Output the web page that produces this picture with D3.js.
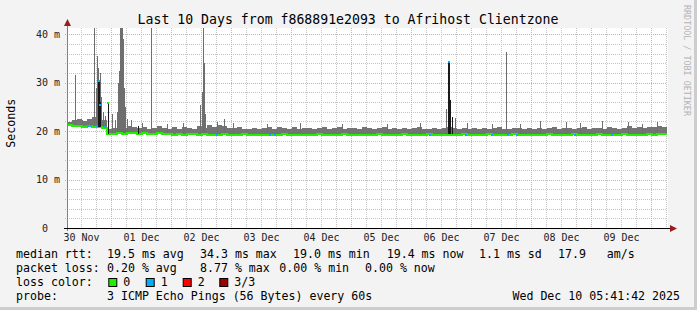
<!DOCTYPE html>
<html>
<head>
<meta charset="utf-8">
<script src="https://cdn.jsdelivr.net/npm/d3@7"></script>
<style>
body { margin: 0; background: #f3f3f3; }
svg { display: block; }
text { font-family: "DejaVu Sans Mono", monospace; white-space: pre; }
</style>
</head>
<body>
<script>
// time window (UTC), series are sampled every 2 hours from start
var start = Date.UTC(2025, 10, 30, 6, 24),
    end = Date.UTC(2025, 11, 10, 6, 24),
    stepHours = 2;

// median rtt in ms, one value per 2 hours
var median = [
  21.2, 21.0, 21.1, 20.9, 21.0, 20.8, 20.9, 20.7,
  19.4, 19.5, 19.6, 19.5, 19.7, 19.6, 19.5, 19.6, 19.4, 19.5, 19.6, 19.5,
  19.4, 19.3, 19.4, 19.3, 19.5, 19.4, 19.3, 19.4, 19.3, 19.2, 19.3, 19.4, 19.3, 19.2, 19.3, 19.4, 19.3, 19.3, 19.2, 19.3,
  19.3, 19.2, 19.3, 19.4, 19.3, 19.2, 19.3, 19.3, 19.2, 19.3, 19.4, 19.3, 19.2, 19.3, 19.3, 19.4, 19.3, 19.2, 19.3, 19.3,
  19.2, 19.3, 19.4, 19.3, 19.3, 19.2, 19.3, 19.4, 19.3, 19.2, 19.3, 19.3, 19.4, 19.3, 19.2, 19.3, 19.3, 19.2, 19.3, 19.4,
  19.3, 19.3, 19.2, 19.3, 19.4, 19.3, 19.2, 19.3, 19.3, 19.4, 19.3, 19.2, 19.3, 19.3, 19.2, 19.3, 19.4, 19.3, 19.3, 19.2,
  19.3, 19.4, 19.3, 19.2, 19.3, 19.3, 19.4, 19.3, 19.2, 19.3, 19.3, 19.4, 19.3, 19.3, 19.2, 19.3, 19.4, 19.3, 19.4, 19.4
];

// top of the smoke (slowest ping) in ms, one value per 2 hours
var smokeTop = [
  21.9, 22.2, 22.5, 22.0, 22.6, 22.9, 23.0, 22.4,
  20.4, 20.6, 21.0, 20.7, 21.1, 20.8, 20.6, 20.9, 20.5, 20.7, 21.0, 20.6,
  20.5, 20.8, 20.4, 20.9, 20.6, 20.5, 21.0, 20.7, 21.2, 20.8, 21.3, 21.0, 20.7, 20.6, 20.9, 20.5, 20.4, 20.7, 20.5, 20.6,
  20.8, 20.5, 20.9, 20.6, 20.5, 20.8, 20.4, 20.7, 20.6, 20.5, 20.7, 20.9, 20.5, 20.6, 20.8, 20.4, 20.6, 20.7, 20.5, 20.8,
  20.6, 20.5, 20.7, 20.9, 20.5, 20.6, 20.4, 20.7, 20.5, 20.6, 20.8, 20.5, 20.4, 20.6, 20.5, 20.7, 20.9, 20.6, 20.5, 20.7,
  20.5, 20.6, 20.4, 20.7, 20.5, 20.6, 20.8, 20.5, 20.4, 20.6, 20.7, 20.5, 20.6, 20.4, 20.7, 20.5, 20.6, 20.8, 20.5, 20.6,
  20.7, 20.5, 20.6, 20.9, 20.5, 20.6, 20.7, 20.5, 20.8, 20.6, 20.5, 20.7, 21.0, 20.6, 20.8, 20.7, 20.9, 20.8, 21.0, 20.9
];

// single-sample smoke spikes: [hours from start, ms]
var spikes = [
  [3.2, 31.6], [6.0, 22.4], [10.8, 41.3], [11.6, 29.0], [12.0, 35.5], [12.4, 33.0], [13.2, 32.0],
  [13.6, 27.0], [14.4, 24.0], [15.2, 23.2], [18.0, 23.6], [19.2, 22.4], [20.0, 24.0], [20.4, 30.0],
  [20.8, 32.5], [21.2, 41.3], [21.6, 41.3], [22.0, 41.3], [22.4, 39.0], [22.8, 29.0], [23.2, 25.0],
  [24.0, 22.6], [25.6, 22.3], [30.0, 21.6], [33.6, 41.3], [40.0, 21.5], [46.4, 21.7], [53.2, 25.3],
  [54.0, 28.0], [54.4, 41.3], [54.8, 34.0], [55.2, 23.5], [60.0, 21.8], [62.8, 22.6], [66.4, 21.6],
  [80.0, 21.5], [93.0, 21.6], [110.0, 21.5], [128.0, 21.4], [141.0, 21.6], [151.6, 24.5], [155.2, 22.8],
  [160.0, 21.7], [170.0, 21.5], [175.6, 36.3], [181.0, 21.4], [189.2, 22.0], [199.6, 21.8],
  [205.0, 21.6], [214.0, 22.0], [224.4, 21.9], [230.0, 21.5], [236.0, 21.8]
];

// dark median jumps: [hours from start, from ms, to ms]
var darkBars = [
  [12.4, 20.8, 30.3], [12.8, 20.8, 30.3], [13.2, 20.8, 26.0], [16.4, 19.4, 25.8], [28.4, 19.4, 21.0],
  [152.4, 19.4, 34.3], [152.8, 19.4, 34.3], [153.2, 19.4, 26.4], [154.0, 19.4, 23.0]
];

// median samples with packet loss: [hours from start, ms, lost pings]
var lossMarks = [
  [8.4, 21.0, 1], [9.6, 21.0, 1], [12.0, 21.0, 1], [12.8, 30.3, 1], [13.2, 25.4, 1], [15.2, 20.9, 1],
  [16.4, 25.8, 0], [60.0, 19.3, 1], [81.2, 19.3, 1], [83.2, 19.3, 1], [145.2, 19.3, 1], [152.8, 34.3, 1],
  [159.6, 19.3, 1], [170.0, 19.3, 1], [176.4, 19.3, 1], [180.0, 19.3, 1], [203.2, 19.3, 1], [218.0, 19.3, 1]
];

var yTicks = [0, 10, 20, 30, 40];
var lossLabels = ["0", "1", "2", "3/3"];
var lossColors = ["#22ee00", "#00b0f0", "#ff0000", "#a00000"];
var rttStats = ["19.5 ms avg", "34.3 ms max", "19.0 ms min", "19.4 ms now", "1.1 ms sd", "17.9", "am/s"];
var lossStats = ["0.20 % avg", "8.77 % max", "0.00 % min", "0.00 % now"];

var W = 697, H = 310,
    pLeft = 67, pRight = 667, pTop = 28, pBottom = 228;

var svg = d3.select("body").append("svg")
    .attr("width", W)
    .attr("height", H);

svg.append("rect").attr("width", W).attr("height", H).attr("fill", "#f3f3f3");
svg.append("rect").attr("x", W - 3).attr("width", 3).attr("height", H).attr("fill", "#cdcdcd");
svg.append("rect").attr("y", H - 3).attr("width", W).attr("height", 3).attr("fill", "#cdcdcd");
svg.append("rect").attr("x", pLeft).attr("y", pTop).attr("width", pRight - pLeft + 1).attr("height", pBottom - pTop)
    .attr("fill", "#fff");

var x = d3.scaleUtc().domain([start, end]).range([pLeft, pRight]);
var y = d3.scaleLinear().domain([0, 41.3]).range([pBottom, pTop]);
var hx = function(h) { return x(start + h * 3600e3); };

// grid
var grid = svg.append("g").attr("shape-rendering", "crispEdges").attr("stroke-dasharray", "1,1");
d3.range(2, 41, 2).forEach(function(v) {
  grid.append("line")
      .attr("x1", pLeft - 2).attr("x2", pRight)
      .attr("y1", Math.round(y(v)) + 0.5).attr("y2", Math.round(y(v)) + 0.5)
      .attr("stroke", v % 10 == 0 ? "#f0a0a0" : "#c4c4c4");
});
x.ticks(d3.utcHour.every(6)).forEach(function(d) {
  var xx = Math.round(x(d)) + 0.5;
  if (xx <= pLeft + 1) return;
  grid.append("line")
      .attr("x1", xx).attr("x2", xx)
      .attr("y1", pTop).attr("y2", pBottom + 2)
      .attr("stroke", d.getUTCHours() == 0 ? "#f0a0a0" : "#c4c4c4");
});

// smoke band
var n = median.length;
svg.append("g").attr("shape-rendering", "crispEdges")
  .selectAll("rect")
  .data(d3.range(n))
  .enter().append("rect")
    .attr("x", function(i) { return Math.round(hx(i * stepHours)); })
    .attr("width", function(i) { return Math.round(hx((i + 1) * stepHours)) - Math.round(hx(i * stepHours)); })
    .attr("y", function(i) { return Math.round(y(smokeTop[i])); })
    .attr("height", function(i) { return Math.round(y(median[i])) - Math.round(y(smokeTop[i])) + 1; })
    .attr("fill", "#747474");

var medianAt = function(h) { return median[Math.min(n - 1, Math.floor(h / stepHours))]; };

svg.append("g").attr("shape-rendering", "crispEdges")
  .selectAll("rect")
  .data(spikes)
  .enter().append("rect")
    .attr("x", function(d) { return Math.round(hx(d[0])); })
    .attr("width", 1)
    .attr("y", function(d) { return Math.max(pTop, Math.round(y(d[1]))); })
    .attr("height", function(d) { return Math.round(y(medianAt(d[0]))) - Math.max(pTop, Math.round(y(d[1]))); })
    .attr("fill", "#6e6e6e");

// median line
var pts = d3.range(n).map(function(i) { return [i * stepHours, median[i]]; });
pts.push([n * stepHours, median[n - 1]]);
svg.append("path")
    .datum(pts)
    .attr("fill", "none")
    .attr("stroke", lossColors[0])
    .attr("stroke-width", 2)
    .attr("shape-rendering", "crispEdges")
    .attr("d", d3.line().curve(d3.curveStepAfter)
        .x(function(d) { return hx(d[0]); })
        .y(function(d) { return Math.round(y(d[1])); }));

svg.append("g").attr("shape-rendering", "crispEdges")
  .selectAll("rect")
  .data(darkBars)
  .enter().append("rect")
    .attr("x", function(d) { return Math.round(hx(d[0])); })
    .attr("width", 1)
    .attr("y", function(d) { return Math.round(y(d[2])); })
    .attr("height", function(d) { return Math.round(y(d[1])) - Math.round(y(d[2])); })
    .attr("fill", "#1a1a1a");

svg.append("g").attr("shape-rendering", "crispEdges")
  .selectAll("rect")
  .data(lossMarks)
  .enter().append("rect")
    .attr("x", function(d) { return Math.round(hx(d[0])) - 1; })
    .attr("y", function(d) { return Math.round(y(d[1])) - 1; })
    .attr("width", 2).attr("height", 2)
    .attr("fill", function(d) { return lossColors[d[2]]; });

// axes lines and arrows
svg.append("line").attr("x1", pLeft + 0.5).attr("x2", pLeft + 0.5).attr("y1", pBottom + 3).attr("y2", pTop - 4)
    .attr("stroke", "#808080").attr("shape-rendering", "crispEdges");
svg.append("line").attr("x1", pLeft - 3).attr("x2", pRight + 4).attr("y1", pBottom + 0.5).attr("y2", pBottom + 0.5)
    .attr("stroke", "#000").attr("shape-rendering", "crispEdges");
svg.append("path").attr("d", "M" + (pLeft - 3) + "," + (pTop - 2) + "L" + (pLeft + 4) + "," + (pTop - 2) + "L" + (pLeft + 0.5) + "," + (pTop - 9) + "Z")
    .attr("fill", "#9b1c1c");
svg.append("path").attr("d", "M" + (pRight + 3) + "," + (pBottom - 3) + "L" + (pRight + 3) + "," + (pBottom + 4) + "L" + (pRight + 10) + "," + (pBottom + 0.5) + "Z")
    .attr("fill", "#9b1c1c");

// tick labels
var noon = d3.utcDay.range(d3.utcDay.floor(new Date(start)), new Date(end))
    .map(function(d) { return d3.utcHour.offset(d, 12); })
    .filter(function(d) { return d >= start && d <= end; });

var gx = svg.append("g")
    .attr("transform", "translate(0," + pBottom + ")")
    .call(d3.axisBottom(x).tickValues(noon).tickSize(0).tickPadding(6).tickFormat(d3.utcFormat("%d %b")));
gx.select(".domain").remove();
gx.attr("font-family", "DejaVu Sans Mono").attr("font-size", 10);
gx.selectAll("text").attr("fill", "#222");

var gy = svg.append("g")
    .attr("transform", "translate(" + pLeft + ",0)")
    .call(d3.axisLeft(y).tickValues(yTicks).tickSize(0).tickPadding(7)
      .tickFormat(function(d) { return d ? d + " m" : "0\u00a0\u00a0"; }));
gy.select(".domain").remove();
gy.attr("font-family", "DejaVu Sans Mono").attr("font-size", 10);
gy.selectAll("text").attr("fill", "#222");

// title, side labels
svg.append("text").attr("x", 348).attr("y", 24).attr("text-anchor", "middle")
    .attr("font-size", "13.2px").attr("fill", "#000")
    .text("Last 10 Days from f868891e2093 to Afrihost Clientzone");

svg.append("text").attr("transform", "translate(10.8,123.3) rotate(-90)")
    .attr("text-anchor", "middle").attr("dy", "0.35em")
    .attr("font-size", "11.6px").attr("fill", "#000")
    .text("Seconds");

svg.append("text").attr("transform", "translate(686.7,5) rotate(90)")
    .attr("dy", "0.35em").attr("font-size", "8.4px").attr("fill", "#b4b4b4")
    .text("RRDTOOL / TOBI OETIKER");

// legend
var legend = svg.append("g").attr("font-size", "11.6px").attr("fill", "#000");
var row = function(yy, label) {
  legend.append("text").attr("x", 16).attr("y", yy).text(label);
};
row(258.3, "median rtt:");
[107, 200, 293, 386.7, 479, 558, 606.7].forEach(function(xx, i) {
  legend.append("text").attr("x", xx).attr("y", 258.3).text(rttStats[i]);
});
row(272.3, "packet loss:");
[107, 200, 279.3, 365].forEach(function(xx, i) {
  legend.append("text").attr("x", xx).attr("y", 272.3).text(lossStats[i]);
});
row(286.3, "loss color:");
[108.3, 145.7, 182.7, 219.3].forEach(function(xx, i) {
  legend.append("rect").attr("x", xx + 0.5).attr("y", 278.5).attr("width", 8).attr("height", 8)
      .attr("fill", lossColors[i]).attr("stroke", "#000").attr("stroke-width", 1);
  legend.append("text").attr("x", xx + 15).attr("y", 286.3).text(lossLabels[i]);
});
row(300.3, "probe:");
legend.append("text").attr("x", 107).attr("y", 300.3).text("3 ICMP Echo Pings (56 Bytes) every 60s");
legend.append("text").attr("x", 680).attr("y", 300.3).attr("text-anchor", "end").text("Wed Dec 10 05:41:42 2025");
</script>
</body>
</html>
